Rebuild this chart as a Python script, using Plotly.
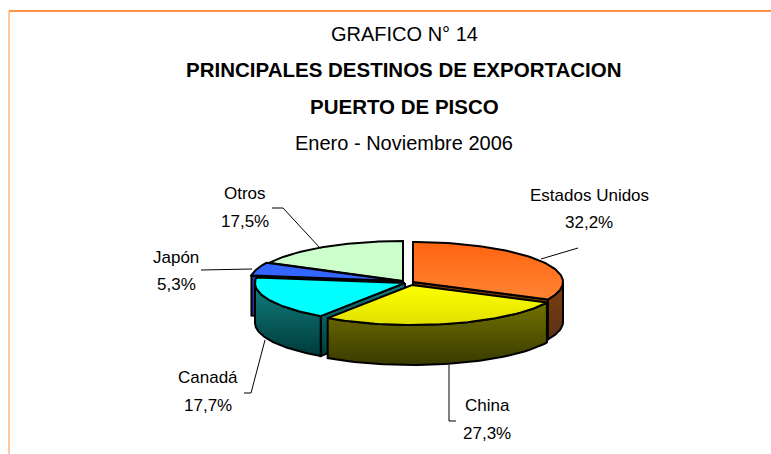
import numpy as np
import plotly.graph_objects as go

categories = ["Estados Unidos", "China", "Canadá", "Japón", "Otros"]
values = [32.2, 27.3, 17.7, 5.3, 17.5]

title_lines = ["GRAFICO N° 14", "PRINCIPALES DESTINOS DE EXPORTACION", "PUERTO DE PISCO", "Enero - Noviembre 2006"]

# pie geometry (pixels on a page-sized axis)
RX, RY, DEPTH = 150, 40, 40
apex = {"Estados Unidos": (413, 282), "China": (412, 285), "Canadá": (405, 283), "Japón": (400, 281), "Otros": (403, 281)}
top_grad = {"Estados Unidos": ("#ff6410", "#ff8434"), "China": ("#ffff00", "#e0e000"), "Canadá": ("#00ffff", "#00ffff"),
            "Japón": ("#3366ff", "#3366ff"), "Otros": ("#ccffcc", "#ccffcc")}
side_grad = {"Estados Unidos": ("#7f3d0c", "#5a3318"), "China": ("#727200", "#3a3a00"), "Canadá": ("#128080", "#003a3a"),
             "Japón": ("#1f3fa8", "#1a3490"), "Otros": ("#668066", "#668066")}
draw_order = ["Otros", "Japón", "Estados Unidos", "Canadá", "China"]

FONT = "Liberation Sans, Arial, sans-serif"

total = sum(values)
spans = {}
a = 0.0
for c, v in zip(categories, values):
    spans[c] = (a, a + v / total * 360)
    a += v / total * 360


def pt(c, ang, dy=0):
    ang = np.radians(ang)
    ax, ay = apex[c]
    return ax + RX * np.sin(ang), ay - RY * np.cos(ang) + dy


def add_poly(fig, xs, ys, grad):
    # the y axis runs downwards, so the colour stops are given bottom first
    fig.add_trace(go.Scatter(
        x=xs, y=ys, mode="lines", fill="toself",
        line=dict(color="black", width=2),
        fillgradient=dict(type="vertical", colorscale=[[0, grad[1]], [1, grad[0]]]),
        hoverinfo="skip", showlegend=False))


fig = go.Figure()
for c in draw_order:
    s, e = spans[c]
    ax, ay = apex[c]
    # radial cut faces turned towards the viewer
    for ang, visible in ((s, np.sin(np.radians(s)) < -1e-6), (e, np.sin(np.radians(e)) > 1e-6)):
        if visible:
            px, py = pt(c, ang)
            add_poly(fig, [ax, px, px, ax, ax], [ay, py, py + DEPTH, ay + DEPTH, ay], side_grad[c])
    # outer wall on the front half
    lo, hi = max(s, 90), min(e, 270)
    if hi > lo:
        t = np.linspace(lo, hi, 60)
        x1, y1 = pt(c, t)
        x2, y2 = pt(c, t[::-1], DEPTH)
        add_poly(fig, list(x1) + list(x2) + [x1[0]], list(y1) + list(y2) + [y1[0]], side_grad[c])
    # top face
    t = np.linspace(s, e, 80)
    x1, y1 = pt(c, t)
    add_poly(fig, [ax] + list(x1) + [ax], [ay] + list(y1) + [ay], top_grad[c])

label_pos = {"Estados Unidos": (589, 195, 222), "China": (487, 405, 433), "Canadá": (208, 377, 405),
             "Japón": (176, 257, 284), "Otros": (245, 193, 221)}
leaders = [
    [(541, 259), (578, 248)],
    [(449, 365), (449, 421), (456, 421)],
    [(265, 340), (251, 393), (244, 393)],
    [(252, 269), (201, 270)],
    [(320, 248), (283, 208), (272, 208)],
]

ann = []
for txt, y, bold in zip(title_lines, (34, 69, 106, 143), (False, True, True, False)):
    ann.append(dict(x=404, y=y, text=f"<b>{txt}</b>" if bold else txt, showarrow=False,
                    font=dict(size=20.5 if bold else 20, color="black", family=FONT), xanchor="center", yanchor="middle"))
for c, v in zip(categories, values):
    x, y1, y2 = label_pos[c]
    ann.append(dict(x=x, y=y1, text=c, showarrow=False, font=dict(size=17, color="black", family=FONT)))
    ann.append(dict(x=x, y=y2, text=f"{v:.1f}%".replace(".", ","), showarrow=False,
                    font=dict(size=17, color="black", family=FONT)))

shapes = [
    dict(type="line", x0=9, x1=771, y0=11, y1=11, line=dict(color="#ff9040", width=2)),
    dict(type="line", x0=9, x1=9, y0=11, y1=454, line=dict(color="#ff9040", width=1)),
]
for pts in leaders:
    path = "M " + " L ".join(f"{x},{y}" for x, y in pts)
    shapes.append(dict(type="path", path=path, line=dict(color="black", width=1)))

fig.update_layout(
    width=771, height=454, margin=dict(l=0, r=0, t=0, b=0),
    paper_bgcolor="white", plot_bgcolor="white", showlegend=False,
    xaxis=dict(range=[0, 771], visible=False, fixedrange=True),
    yaxis=dict(range=[454, 0], visible=False, fixedrange=True),
    annotations=ann, shapes=shapes,
)
fig.write_html("out.html", config={"displayModeBar": False},
               post_script="document.body.style.margin='0';document.documentElement.style.overflow='hidden';")
